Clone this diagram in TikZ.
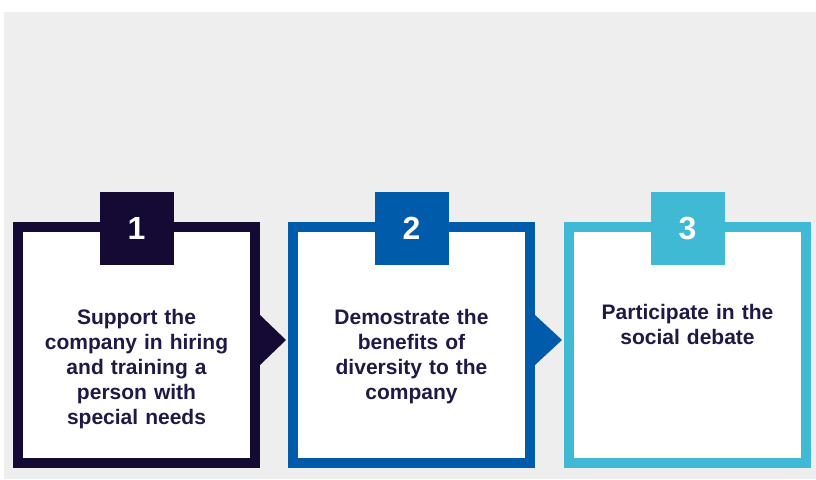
\documentclass[tikz,border=0pt]{standalone}
\usepackage{fontspec}
\setmainfont{Liberation Sans}
\definecolor{bggray}{HTML}{EEEEEE}
\definecolor{stepone}{HTML}{150A33}
\definecolor{steptwo}{HTML}{005BAA}
\definecolor{stepthree}{HTML}{40B9D5}
\definecolor{textnavy}{HTML}{1F1A45}
\begin{document}
\begin{tikzpicture}[x=1pt, y=-1pt,
    stepbox/.style={draw=#1, fill=white, line width=10pt, inner sep=0pt, minimum width=237pt, minimum height=236pt},
    numbox/.style={fill=#1, inner sep=0pt, minimum width=74pt, minimum height=73pt, text=white, font=\bfseries\fontsize{32}{32}\selectfont},
    desc/.style={anchor=north, text width=215pt, align=center, inner sep=0pt, text=textnavy, font=\bfseries\fontsize{21}{25}\selectfont}]
    \useasboundingbox (0,0) rectangle (816,479);
    \fill[bggray] (4,12) rectangle (816,479);
    %nodes
    \node[stepbox=stepone] at (136.5,345) (box1) {};
    \node[stepbox=steptwo] at (411.5,345) (box2) {};
    \node[stepbox=stepthree] at (687.5,345) (box3) {};
    \node[numbox=stepone] at (136.5,228.5) (num1) {1};
    \node[numbox=steptwo] at (411.5,228.5) (num2) {2};
    \node[numbox=stepthree] at (687.5,228.5) (num3) {3};
    \node[desc] at (136.5,309) (desc1) {Support the\\company in hiring\\and training a\\person with\\special needs};
    \node[desc] at (411.5,309) (desc2) {Demostrate the\\benefits of\\diversity to the\\company};
    \node[desc] at (687.5,304) (desc3) {Participate in the\\social debate};
    %pointers
    \fill[stepone] (box1.east) ++(0,-30) -- ++(26,25) -- ++(-26,25) -- cycle;
    \fill[steptwo] (box2.east) ++(0,-30) -- ++(27,25) -- ++(-27,25) -- cycle;
\end{tikzpicture}
\end{document}
